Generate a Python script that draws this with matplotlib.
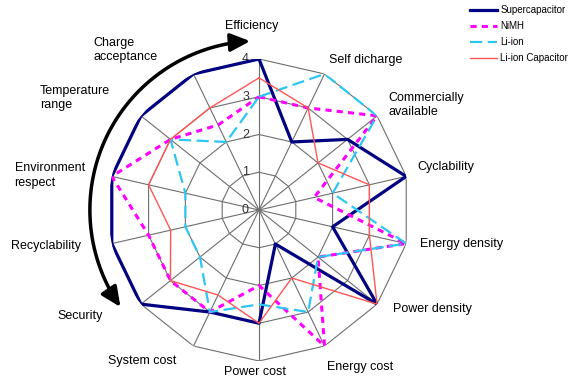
import numpy as np
import matplotlib.pyplot as plt
from matplotlib.patches import FancyArrowPatch
from matplotlib.path import Path

plt.rcParams['font.family'] = ['Liberation Sans', 'DejaVu Sans']

# axis names, clockwise from the top
categories = ["Efficiency", "Self dicharge", "Commercially\navailable", "Cyclability",
              "Energy density", "Power density", "Energy cost", "Power cost",
              "System cost", "Security", "Recyclability", "Environment\nrespect",
              "Temperature\nrange", "Charge\nacceptance"]
supercap = [4, 2, 3, 4, 2, 4, 1, 3, 3, 4, 4, 4, 4, 4]
nimh = [3, 3, 4, 1.5, 4, 2, 4, 2, 3, 3, 3, 4, 3, 2.5]
li_ion = [3, 4, 4, 2, 4, 2, 3, 2.5, 3, 2, 2, 2, 3, 2]
li_ion_cap = [3.5, 3, 2, 3, 3, 4, 2, 3, 2.5, 3, 2.4, 3, 3, 3]
levels = [0, 1, 2, 3, 4]

n = len(categories)
angles = np.linspace(0, 2 * np.pi, n, endpoint=False)
closed = np.append(angles, angles[0])

fig = plt.figure(figsize=(5.84, 3.88), dpi=100)
ax = fig.add_axes([108 / 584, 27 / 388, 302 / 584, 302 / 388], projection='polar')
ax.set_theta_offset(np.pi / 2)
ax.set_theta_direction(-1)
ax.set_ylim(0, max(levels))
ax.set_xticks([])
ax.set_yticks([])
ax.grid(False)
ax.spines['polar'].set_visible(False)
ax.patch.set_alpha(0)

# polygon grid + spokes
for lev in levels[1:]:
    ax.plot(closed, [lev] * len(closed), color='#6e6e6e', lw=0.8, zorder=1)
for a in angles:
    ax.plot([a, a], [0, max(levels)], color='#6e6e6e', lw=0.8, zorder=1)

# level numbers along the top axis
for lev in levels:
    ax.annotate(str(lev), xy=(0, lev), xytext=(-10, 0), textcoords='offset pixels',
                ha='right', va='center', fontsize=9, color='#333333')

series = [
    ("Supercapacitor", supercap, dict(color='#000080', lw=2.3, ls='-')),
    ("NiMH", nimh, dict(color='#ff00ff', lw=2.2, ls=(0, (2.0, 1.7)))),
    ("Li-ion", li_ion, dict(color='#2cc6f2', lw=1.6, ls=(0, (5.5, 2.5)))),
    ("Li-ion Capacitor", li_ion_cap, dict(color='#ff5555', lw=1.0, ls='-')),
]
handles = []
for name, vals, style in series:
    h, = ax.plot(closed, np.append(vals, vals[0]), label=name, zorder=3, **style)
    handles.append(h)

# category labels: offset (px) from outer vertex and alignment
offsets = [(-7, 33), (4, 14), (11, 11), (11, 9), (14, 0), (16, -5), (2, -21),
           (-4, -11), (-17, -15), (-38, -12), (-31, -2), (-27, 1), (-31, 18), (-36, 24)]
aligns = ['center', 'left', 'left', 'left', 'left', 'left', 'left',
          'center', 'right', 'right', 'right', 'right', 'right', 'right']
for a, lab, off, ha in zip(angles, categories, offsets, aligns):
    ax.annotate(lab, xy=(a, max(levels)), xytext=off, textcoords='offset pixels',
                ha=ha, va='center', multialignment='left', fontsize=9,
                linespacing=1.3, annotation_clip=False)

# curved double arrow on the left
theta = np.radians(np.linspace(235, 357, 80))
arc = Path(np.column_stack([theta, np.full_like(theta, 4.48)]))
arrow = FancyArrowPatch(path=arc, arrowstyle='<|-|>,head_length=1.2,head_width=0.55',
                        mutation_scale=10, color='black', lw=2.5,
                        transform=ax.transData, clip_on=False)
ax.add_patch(arrow)

fig.legend(handles=handles, loc='upper left', bbox_to_anchor=(470 / 584, 1 - 5 / 388),
           frameon=False, fontsize=7, handlelength=2.8, handletextpad=0.3,
           labelspacing=0.62, borderpad=0, borderaxespad=0)

fig.savefig('out.png', dpi=100)
